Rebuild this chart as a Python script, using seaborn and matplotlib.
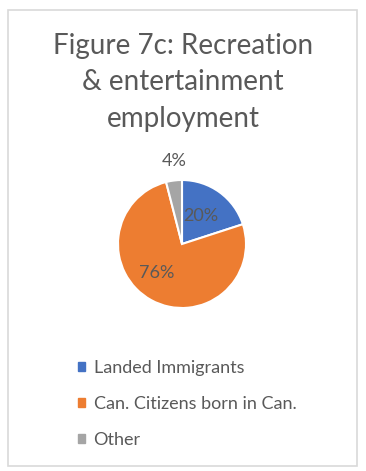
"""
Figure 7c - Recreation & entertainment employment (pie)
"""
import matplotlib
matplotlib.use("Agg")
import matplotlib.pyplot as plt
import matplotlib.patches as mpatches
import numpy as np
import seaborn as sns

# data
categories = ["Landed Immigrants", "Can. Citizens born in Can.", "Other"]
shares = [20, 76, 4]
colors = ["#4472C4", "#ED7D31", "#A5A5A5"]
title = "Figure 7c: Recreation\n& entertainment\nemployment"

sns.set_theme(style="white")
plt.rcParams["font.family"] = ["Lato", "DejaVu Sans"]
TEXT = "#595959"

W, H = 366, 471
fig = plt.figure(figsize=(W / 100, H / 100), dpi=100)

# chart frame
fig.patches.append(mpatches.Rectangle((8 / W, 1 - 466 / H), 349 / W, 456 / H,
                                      transform=fig.transFigure, fill=False,
                                      edgecolor="#D9D9D9", linewidth=1.2))

fig.text(0.5, 1 - 33 / H, title, ha="center", va="top", fontsize=20,
         color=TEXT, linespacing=1.5)

# pie axes: center (182, 244) px, radius 64 px
cx, cy, r = 182, 244, 64
ax = fig.add_axes([(cx - r) / W, 1 - (cy + r) / H, 2 * r / W, 2 * r / H])
wedges, _, autotexts = ax.pie(shares, colors=colors, startangle=90, counterclock=False,
                              autopct="%1.0f%%", pctdistance=0.55,
                              wedgeprops=dict(edgecolor="white", linewidth=1.5),
                              textprops=dict(color=TEXT, fontsize=13))
ax.set_xlim(-1, 1)
ax.set_ylim(-1, 1)
ax.set_aspect("equal")
ax.axis("off")

# Excel-like label placement (distance, angle nudge in degrees)
placement = [(0.53, 2), (0.6, -12), (1.3, -2)]
for w, t, (d, nudge) in zip(wedges, autotexts, placement):
    ang = np.deg2rad((w.theta1 + w.theta2) / 2 + nudge)
    t.set_position((d * np.cos(ang), d * np.sin(ang)))
    t.set_clip_on(False)

handles = [mpatches.Patch(color=c) for c in colors]
fig.legend(handles, categories, loc="upper left", bbox_to_anchor=(62 / W, 1 - 344 / H),
           frameon=False, fontsize=13, labelcolor=TEXT, handlelength=0.4,
           handleheight=0.4, handletextpad=0.45, labelspacing=1.1)

fig.savefig("out.png", dpi=100)
